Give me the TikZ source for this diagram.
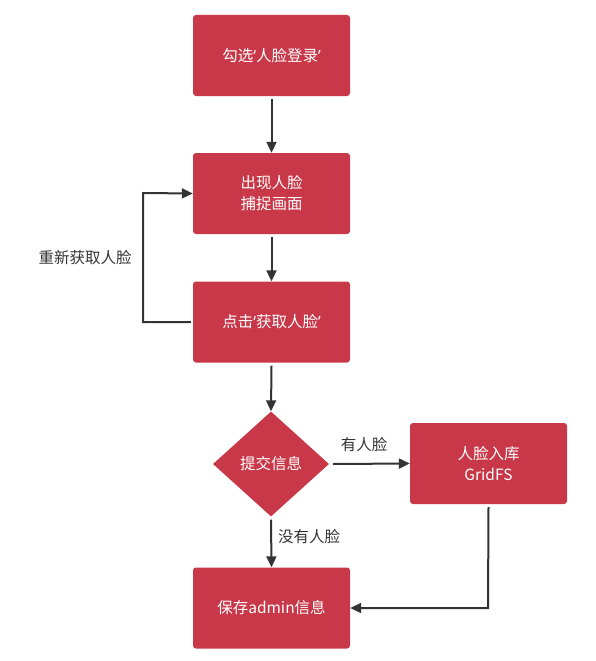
\documentclass[tikz,border=0pt]{standalone}
\usepackage{fontspec}
\setmainfont{Noto Sans CJK SC}
\newfontfamily\latinq{Noto Sans}
\usetikzlibrary{shapes.geometric,arrows.meta}
\definecolor{boxred}{RGB}{200,56,72}
\definecolor{linegray}{RGB}{51,51,51}
\newcommand{\myLQ}{{\latinq ‘}}
\newcommand{\myRQ}{{\latinq ’}}
\tikzset{
  stepbox/.style={fill=boxred, draw=none, rounded corners=3pt, minimum width=157pt, minimum height=81pt, text=white, font=\fontsize{15.5}{21}\selectfont, align=center, inner sep=0pt},
  decision/.style={diamond, fill=boxred, draw=none, minimum width=116pt, minimum height=105pt, aspect=1.1, text=white, font=\fontsize{15.5}{21}\selectfont, inner sep=0pt},
  conn/.style={draw=linegray, line width=2pt, -{Triangle[length=11pt,width=10pt]}},
  lbl/.style={text=linegray, font=\fontsize{15.5}{21}\selectfont, inner sep=0pt},
}
\begin{document}
\begin{tikzpicture}[x=1pt,y=-1pt]
\useasboundingbox (0,0) rectangle (596,661);
\node[stepbox] (b1) at (271.5,55.5) {勾选\myLQ 人脸登录\myRQ};
\node[stepbox] (b2) at (271.5,193.5) {出现人脸\\捕捉画面};
\node[stepbox] (b3) at (271.5,322) {点击\myLQ 获取人脸\myRQ};
\node[decision, minimum width=116pt, minimum height=105pt] (d) at (271,464) {提交信息};
\node[stepbox] (b4) at (488.5,463.5) {人脸入库\\GridFS};
\node[stepbox] (b5) at (271.5,608) {保存admin信息};
\coordinate (lp1) at (143,322);
\coordinate (lp2) at (143,193);
\coordinate (rc) at (488,608);
\draw[conn] ([yshift=-3pt]b1.south) -- (b2.north);
\draw[conn] ([yshift=-3pt]b2.south) -- (b3.north);
\draw[conn] ([yshift=-3pt]b3.south) -- (d.north);
\draw[conn] ([xshift=-2pt]b3.west) -- (lp1) -- (lp2) -- (b2.west);
\draw[conn] ([xshift=4pt]d.east) -- (b4.west);
\draw[conn] ([yshift=-3pt]d.south) -- (b5.north);
\draw[conn] ([yshift=-3pt]b4.south) -- (rc) -- (b5.east);
\node[lbl] (l1) at (85,258) {重新获取人脸};
\node[lbl] (l2) at (364,445) {有人脸};
\node[lbl] (l3) at (309,537) {没有人脸};
\end{tikzpicture}
\end{document}
